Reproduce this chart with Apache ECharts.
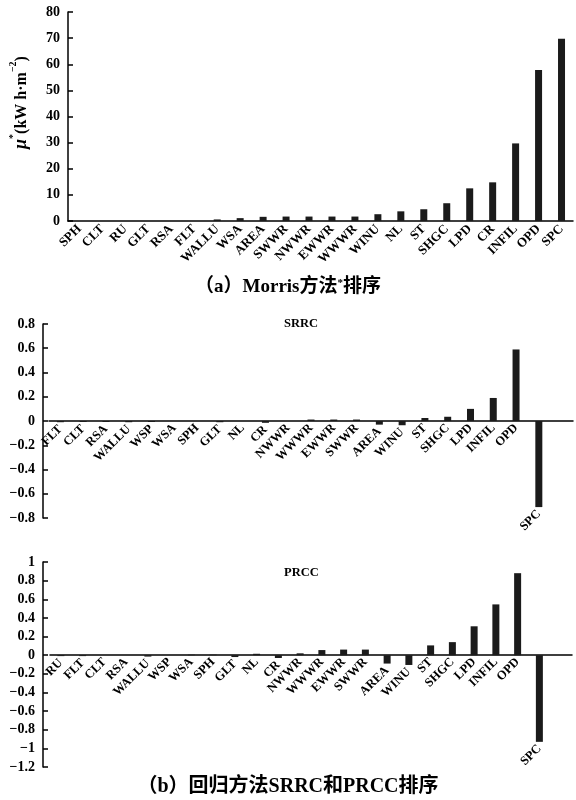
<!DOCTYPE html>
<html>
<head>
<meta charset="utf-8">
<script src="https://cdn.jsdelivr.net/npm/echarts@6/dist/echarts.min.js"></script>
<style>html,body{margin:0;padding:0;background:#fff}#c{width:576px;height:800px}</style>
</head>
<body>
<div id="c"></div>
<script>
// ---- data ----
const morrisCats = ['SPH','CLT','RU','GLT','RSA','FLT','WALLU','WSA','AREA','SWWR','NWWR','EWWR','WWWR','WINU','NL','ST','SHGC','LPD','CR','INFIL','OPD','SPC'];
const morrisVals = [0,0,0,0,0,0,0.6,1.1,1.6,1.7,1.7,1.7,1.7,2.6,3.7,4.5,6.8,12.5,14.8,29.7,57.8,69.8];
const morrisTicks = [0,10,20,30,40,50,60,70,80];

const srrcCats = ['FLT','CLT','RSA','WALLU','WSP','WSA','SPH','GLT','NL','CR','NWWR','WWWR','EWWR','SWWR','AREA','WINU','ST','SHGC','LPD','INFIL','OPD','SPC'];
const srrcVals = [-0.01,-0.008,-0.008,-0.01,-0.008,0,0,-0.01,0,-0.015,0,0.012,0.012,0.012,-0.03,-0.035,0.025,0.035,0.1,0.19,0.59,-0.71];
const srrcTicks = [-0.8,-0.6,-0.4,-0.2,0,0.2,0.4,0.6,0.8];

const prccCats = ['RU','FLT','CLT','RSA','WALLU','WSP','WSA','SPH','GLT','NL','CR','NWWR','WWWR','EWWR','SWWR','AREA','WINU','ST','SHGC','LPD','INFIL','OPD','SPC'];
const prccVals = [-0.01,-0.01,0,0,-0.015,0,0.005,0.005,-0.02,0.015,-0.03,0.02,0.055,0.06,0.06,-0.09,-0.105,0.105,0.14,0.31,0.545,0.88,-0.93];
const prccTicks = [-1.2,-1,-0.8,-0.6,-0.4,-0.2,0,0.2,0.4,0.6,0.8,1];

// ---- styles ----
const SERIF = '"Liberation Serif","DejaVu Serif","Noto Sans CJK SC",serif';
const TITLEF = '"Liberation Serif","Noto Sans CJK SC",serif';
const BAR = '#1b1b1b';
const fmtNum = v => String(Math.round(v * 100) / 100).replace('-', '\u2212');

function yAxisCommon(gi, ticks, extra) {
  return Object.assign({
    type: 'value', gridIndex: gi,
    min: ticks[0], max: ticks[ticks.length - 1],
    interval: ticks[1] - ticks[0],
    splitLine: { show: false },
    axisLine: { show: true, lineStyle: { color: '#000', width: 1.5 } },
    axisTick: { show: true, inside: true, length: 5, lineStyle: { color: '#000', width: 1.5 } },
    axisLabel: { color: '#000', fontFamily: SERIF, fontWeight: 'bold', fontSize: 14, margin: 8, formatter: fmtNum }
  }, extra || {});
}

function xAxisCommon(gi, cats, extra) {
  return Object.assign({
    type: 'category', gridIndex: gi, data: cats,
    axisLine: { show: true, onZero: true, lineStyle: { color: '#000', width: 1.5 } },
    axisTick: { show: false },
    splitLine: { show: false }
  }, extra || {});
}

function labeledBar(xi, yi, vals) {
  return {
    type: 'bar', xAxisIndex: xi, yAxisIndex: yi, data: vals, barWidth: 7,
    itemStyle: { color: BAR },
    label: {
      show: true, position: 'bottom', distance: 5, rotate: 45,
      align: 'right', verticalAlign: 'middle',
      formatter: p => p.name,
      color: '#000', fontFamily: SERIF, fontWeight: 'bold', fontSize: 12.5
    }
  };
}

const chart = echarts.init(document.getElementById('c'), null, { renderer: 'canvas' });
chart.setOption({
  animation: false,
  backgroundColor: '#fff',
  title: [
    { text: '（a）Morris方法{s|*}排序', left: 'center', top: 273,
      textStyle: { fontFamily: TITLEF, fontWeight: 'bold', fontSize: 19, color: '#000',
        rich: { s: { fontSize: 11, fontWeight: 'bold', verticalAlign: 'top', fontFamily: TITLEF, color: '#000' } } } },
    { text: 'SRRC', left: 279, top: 313, textStyle: { fontFamily: SERIF, fontWeight: 'bold', fontSize: 12.5, color: '#000' } },
    { text: 'PRCC', left: 279, top: 562, textStyle: { fontFamily: SERIF, fontWeight: 'bold', fontSize: 12.5, color: '#000' } },
    { text: '（b）回归方法SRRC和PRCC排序', left: 'center', top: 772,
      textStyle: { fontFamily: TITLEF, fontWeight: 'bold', fontSize: 20, color: '#000' } }
  ],
  grid: [
    { left: 63, top: 12, width: 510, height: 209 },
    { left: 49, top: 324, width: 524, height: 194 },
    { left: 50, top: 562, width: 522, height: 205 }
  ],
  xAxis: [
    xAxisCommon(0, morrisCats, {
      axisLabel: { show: true, interval: 0, rotate: 45, margin: 6, color: '#000',
        fontFamily: SERIF, fontWeight: 'bold', fontSize: 13 }
    }),
    xAxisCommon(1, srrcCats, { max: srrcCats.length, axisLabel: { show: false } }),
    xAxisCommon(2, prccCats, { max: prccCats.length, axisLabel: { show: false } })
  ],
  yAxis: [
    yAxisCommon(0, morrisTicks, {
      name: '{m|μ}{s|*}{n|(kW h·m}{s|−2}{n|)}',
      nameLocation: 'middle', nameGap: 38, nameRotate: 90,
      nameTextStyle: {
        padding: [0, 0, 0, 28],
        rich: {
          m: { fontFamily: SERIF, fontStyle: 'italic', fontWeight: 'bold', fontSize: 18, color: '#000', verticalAlign: 'bottom', lineHeight: 22 },
          n: { fontFamily: SERIF, fontWeight: 'bold', fontSize: 16, color: '#000', verticalAlign: 'bottom', lineHeight: 22 },
          s: { fontFamily: SERIF, fontWeight: 'bold', fontSize: 10, color: '#000', verticalAlign: 'top', lineHeight: 22 }
        }
      }
    }),
    yAxisCommon(1, srrcTicks, { offset: 6 }),
    yAxisCommon(2, prccTicks, { offset: 7 })
  ],
  series: [
    { type: 'bar', xAxisIndex: 0, yAxisIndex: 0, data: morrisVals, barWidth: 7, itemStyle: { color: BAR } },
    labeledBar(1, 1, srrcVals),
    labeledBar(2, 2, prccVals)
  ]
});
</script>
</body>
</html>
